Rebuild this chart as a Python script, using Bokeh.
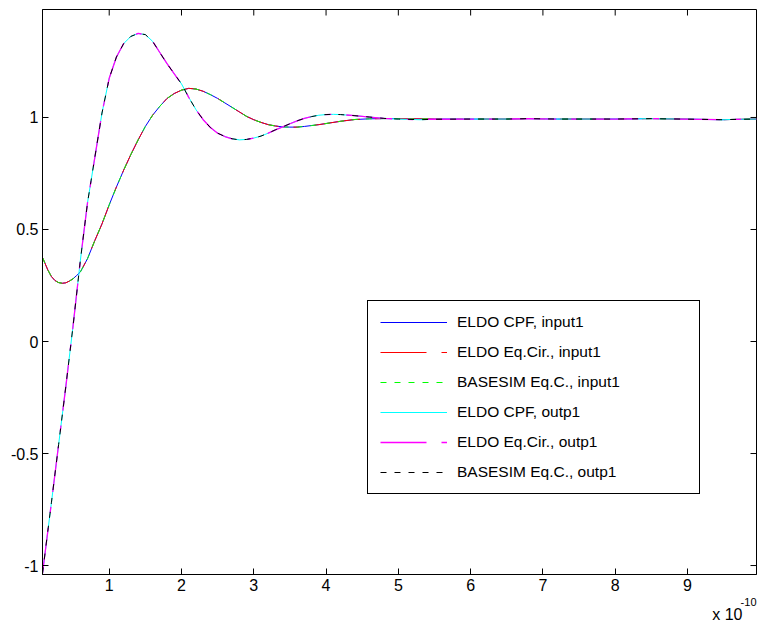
import math
from bokeh.plotting import figure
from bokeh.models import Range1d, FixedTicker, Legend, LegendItem, Title
from bokeh.embed import file_html
from bokeh.resources import INLINE

# time axis in units of 1e-10 s
t_in = [0.077, 0.15, 0.2, 0.25, 0.3, 0.35, 0.4, 0.45, 0.5, 0.55, 0.6, 0.7, 0.8, 0.9,
        1.0, 1.1, 1.2, 1.3, 1.4, 1.5, 1.6, 1.7, 1.8, 1.9, 2.0, 2.1, 2.2, 2.3, 2.4,
        2.5, 2.6, 2.7, 2.8, 2.9, 3.0, 3.1, 3.2, 3.3, 3.4, 3.5, 3.6, 3.7, 3.8, 3.9,
        4.0, 4.2, 4.4, 4.6, 4.8, 5.0, 5.5, 6.0, 6.5, 6.8, 7.2, 8.0, 8.5, 8.9, 9.5,
        9.6, 9.955]
input1 = [0.375, 0.32, 0.29, 0.272, 0.263, 0.26, 0.262, 0.27, 0.28, 0.295, 0.31,
          0.37, 0.45, 0.525, 0.61, 0.69, 0.765, 0.835, 0.90, 0.96, 1.01, 1.05,
          1.085, 1.107, 1.122, 1.13, 1.127, 1.117, 1.102, 1.085, 1.065, 1.045,
          1.025, 1.005, 0.99, 0.978, 0.968, 0.962, 0.958, 0.957, 0.957, 0.96,
          0.964, 0.968, 0.973, 0.983, 0.991, 0.994, 0.995, 0.995, 0.993, 0.993,
          0.993, 0.995, 0.993, 0.993, 0.995, 0.993, 0.99, 0.991, 0.993]

t_out = [0.077, 0.2, 0.3, 0.4, 0.5, 0.6, 0.7, 0.8, 0.9, 1.0, 1.1, 1.2, 1.3, 1.4,
         1.5, 1.6, 1.7, 1.8, 1.9, 2.0, 2.1, 2.2, 2.3, 2.4, 2.5, 2.6, 2.7, 2.8, 2.9,
         3.0, 3.1, 3.2, 3.3, 3.4, 3.5, 3.6, 3.7, 3.8, 3.9, 4.0, 4.1, 4.2, 4.4, 4.6,
         4.8, 5.0, 5.3, 5.5, 6.0, 6.5, 6.8, 7.2, 8.0, 8.5, 8.9, 9.5, 9.6, 9.955]
outp1 = [-1.035, -0.72, -0.46, -0.2, 0.07, 0.36, 0.62, 0.82, 1.02, 1.175, 1.27,
         1.33, 1.362, 1.375, 1.37, 1.34, 1.29, 1.24, 1.195, 1.15, 1.09, 1.035,
         0.99, 0.955, 0.93, 0.915, 0.905, 0.90, 0.902, 0.908, 0.917, 0.93, 0.945,
         0.958, 0.972, 0.985, 0.996, 1.004, 1.01, 1.013, 1.014, 1.013, 1.008,
         1.002, 0.996, 0.993, 0.99, 0.992, 0.993, 0.993, 0.995, 0.993, 0.993,
         0.995, 0.993, 0.99, 0.991, 0.993]

x_ticks = [1, 2, 3, 4, 5, 6, 7, 8, 9]
y_ticks = [-1, -0.5, 0, 0.5, 1]
y_tick_labels = {-1: "-1", -0.5: "-0.5", 0: "0", 0.5: "0.5", 1: "1"}

legend_labels = ["ELDO CPF, input1", "ELDO Eq.Cir., input1", "BASESIM Eq.C., input1",
                 "ELDO CPF, outp1", "ELDO Eq.Cir., outp1", "BASESIM Eq.C., outp1"]

FONT = "Liberation Sans"
X0, X1 = 0.077, 9.955
Y0, Y1 = -1.04, 1.482

p = figure(frame_width=714, frame_height=565, output_backend="svg",
           toolbar_location=None,
           x_range=Range1d(X0, X1), y_range=Range1d(Y0, Y1),
           min_border_left=42, min_border_right=1, min_border_top=9,
           min_border_bottom=50, background_fill_color="white",
           border_fill_color="white")
p.xgrid.visible = False
p.ygrid.visible = False
p.outline_line_color = "black"
p.outline_line_width = 1
p.outline_line_alpha = 1

for ax, ticks in ((p.xaxis[0], x_ticks), (p.yaxis[0], y_ticks)):
    ax.ticker = FixedTicker(ticks=ticks)
    ax.axis_line_color = "black"
    ax.major_tick_line_color = "black"
    ax.major_tick_in = 6
    ax.major_tick_out = 0
    ax.minor_tick_line_color = None
    ax.major_label_text_font = FONT
    ax.major_label_text_color = "black"
    ax.major_label_text_font_size = "16px"
    ax.major_label_standoff = 4
p.yaxis[0].major_label_overrides = y_tick_labels

# mirrored inward ticks on the top and right edges of the box
p.scatter(x_ticks, [Y1] * len(x_ticks), marker="dash", size=12, angle=math.pi / 2,
          line_color="black", line_width=1)
p.scatter([X1] * len(y_ticks), y_ticks, marker="dash", size=12,
          line_color="black", line_width=1)

r1 = p.line(t_in, input1, line_color="#0000ff", line_width=1)
r2 = p.line(t_in, input1, line_color="#ff0000", line_width=1, line_dash="46 15 6 15")
r3 = p.line(t_in, input1, line_color="#00ff00", line_width=1, line_dash="6 8")
r4 = p.line(t_out, outp1, line_color="#00ffff", line_width=1)
r5 = p.line(t_out, outp1, line_color="#ff00ff", line_width=1.3, line_dash="46 15 6 15")
r6 = p.line(t_out, outp1, line_color="#000000", line_width=1, line_dash="6 8")

items = [LegendItem(label=lab, renderers=[r]) for lab, r in
         zip(legend_labels, [r1, r2, r3, r4, r5, r6])]
legend = Legend(items=items, location=(325, 80), glyph_width=67, glyph_height=18,
                label_height=18, label_standoff=10, spacing=12, padding=12,
                label_width=230, label_text_font=FONT, label_text_font_size="15.5px",
                label_text_color="black", border_line_color="black",
                border_line_width=1, border_line_alpha=1,
                background_fill_color="white", background_fill_alpha=1,
                margin=0)
p.add_layout(legend, "center")

p.add_layout(Title(text="-10", align="right", offset=0, standoff=5,
                   text_font=FONT, text_font_size="11px", text_font_style="normal",
                   text_color="black"), "below")
p.add_layout(Title(text="x 10", align="right", offset=14, standoff=-9,
                   text_font=FONT, text_font_size="16px", text_font_style="normal",
                   text_color="black"), "below")

open("out.html", "w").write(file_html(p, INLINE))
